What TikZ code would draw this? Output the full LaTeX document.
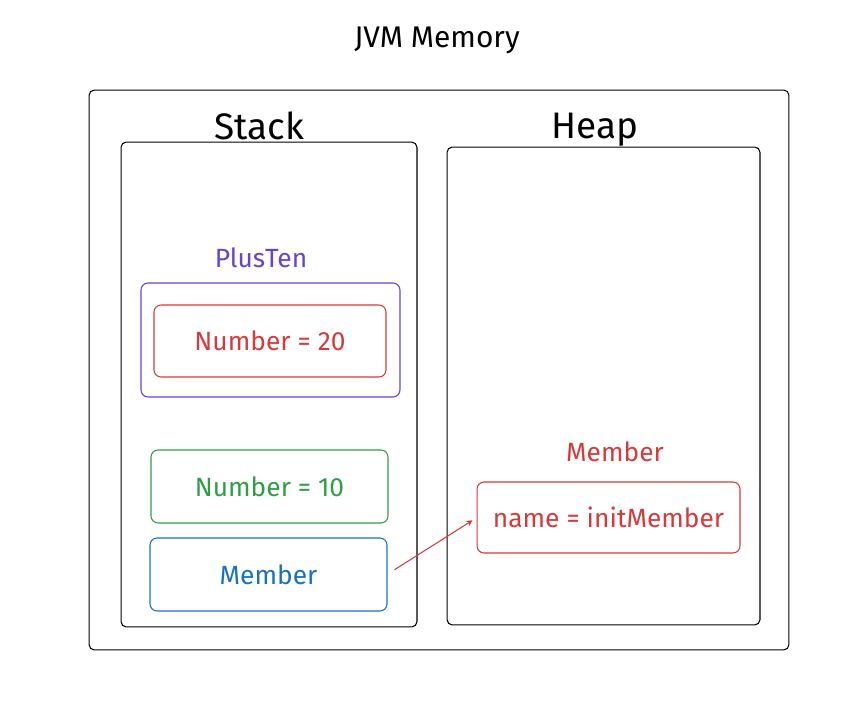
\documentclass[tikz,border=0pt]{standalone}
\usepackage{fontspec}
\setmainfont{Fira Sans}
\definecolor{violetx}{HTML}{6741D9}
\definecolor{redx}{HTML}{D63A3A}
\definecolor{greenx}{HTML}{2F9E44}
\definecolor{bluex}{HTML}{1971C2}
\tikzset{
  area/.style={draw=black,line width=0.6pt,rounded corners=3pt,inner sep=0pt,outer sep=0pt},
  slot/.style={draw=#1,text=#1,line width=0.6pt,rounded corners=4pt,inner sep=0pt,outer sep=0pt,
    minimum width=4.74cm,minimum height=1.46cm,font=\fontsize{15}{18}\selectfont},
  caption/.style={font=\fontsize{#1}{#1}\selectfont}
}
\begin{document}
\begin{tikzpicture}[x=0.02cm,y=-0.02cm]
\useasboundingbox (0,0) rectangle (856,702);

\node[caption=17,text=black](title) at (437,40) {JVM Memory};

\node[area,minimum width=14cm,minimum height=11.2cm](memory) at (439,370) {};

\node[area,minimum width=5.92cm,minimum height=9.7cm](stack) at (269,384.5) {};
\node[caption=21](stack label) at (259,126) {Stack};

\node[area,minimum width=6.26cm,minimum height=9.56cm](heap) at (603.5,386) {};
\node[caption=21](heap label) at (595,130) {Heap};

\node[caption=15,text=violetx](plusten label) at (261,258) {PlusTen};
\node[slot=violetx,minimum width=5.18cm,minimum height=2.28cm](plusten) at (270.5,340) {};
\node[slot=redx,minimum width=4.64cm,minimum height=1.44cm](number twenty) at (270,341) {Number = 20};

\node[slot=greenx](number ten) at (269.5,486.5) {Number = 10};
\node[slot=bluex](member) at (268.5,574.5) {Member};

\node[caption=15,text=redx](member label) at (615,452) {Member};
\node[slot=redx,minimum width=5.26cm,minimum height=1.42cm](name) at (608.5,517.5) {name = initMember};

\draw[->,>=stealth,draw=redx,line width=0.6pt,shorten <=5pt,shorten >=3pt] (member.east) to (name.west);

\end{tikzpicture}
\end{document}
